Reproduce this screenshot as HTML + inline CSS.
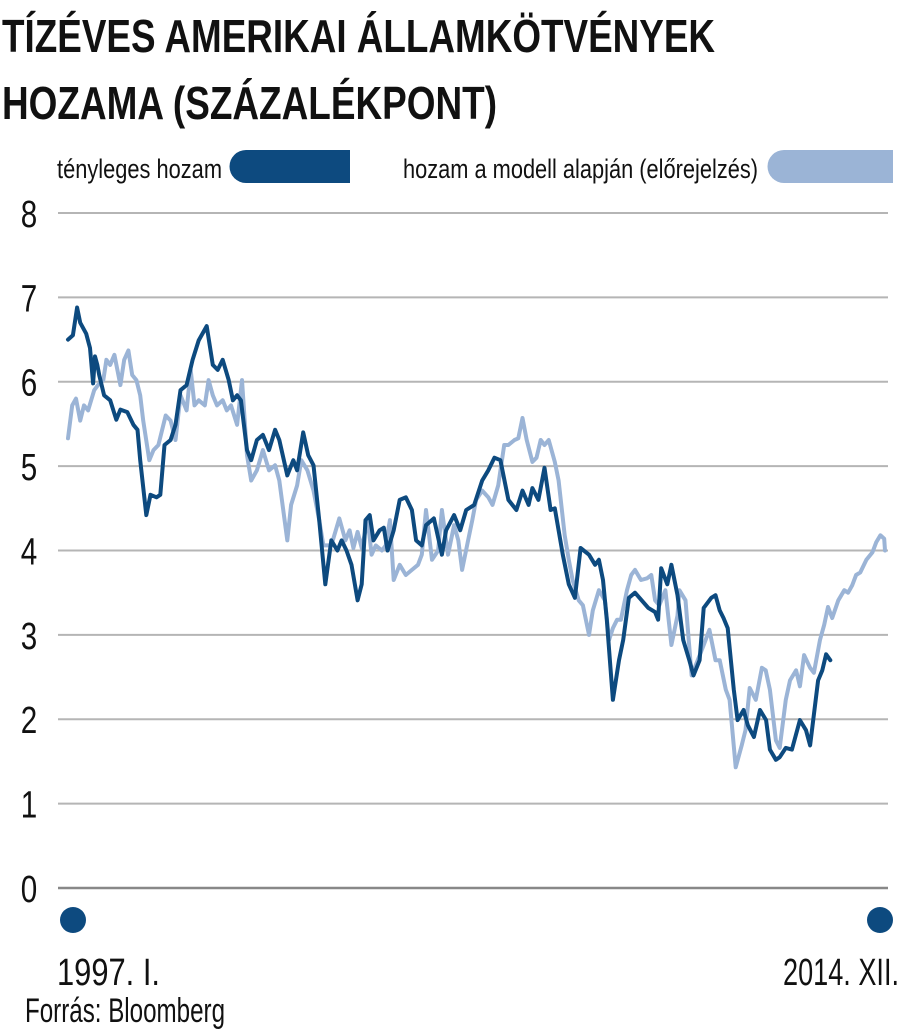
<!DOCTYPE html>
<html><head><meta charset="utf-8"><style>
html,body{margin:0;padding:0;background:#fff;}
svg{display:block;font-family:"Liberation Sans",sans-serif;}
</style></head><body>
<svg id="chart" width="900" height="1030" viewBox="0 0 900 1030" xmlns="http://www.w3.org/2000/svg">
<text x="2" y="52" font-size="46" font-weight="bold" fill="#111" textLength="713" lengthAdjust="spacingAndGlyphs">TÍZÉVES AMERIKAI ÁLLAMKÖTVÉNYEK</text>
<text x="2" y="119" font-size="46" font-weight="bold" fill="#111" textLength="495" lengthAdjust="spacingAndGlyphs">HOZAMA (SZÁZALÉKPONT)</text>
<g>
<text x="57" y="178" font-size="27" fill="#111" textLength="165" lengthAdjust="spacingAndGlyphs">tényleges hozam</text>
<path d="M246,150 H350 V183 H246 A16.5,16.5 0 0 1 246,150 Z" fill="#0d4a7f"/>
<text x="403" y="178" font-size="27" fill="#111" textLength="355" lengthAdjust="spacingAndGlyphs">hozam a modell alapján (előrejelzés)</text>
<path d="M784,150 H893 V183 H784 A16.5,16.5 0 0 1 784,150 Z" fill="#9bb4d6"/>
</g>
<g id="grid"></g>
<g id="series"></g>
<circle cx="73" cy="920" r="13" fill="#0d4a7f"/>
<circle cx="880" cy="920" r="13" fill="#0d4a7f"/>
<text x="57" y="985" font-size="38" fill="#111" textLength="103" lengthAdjust="spacingAndGlyphs">1997. I.</text>
<text x="783" y="985" font-size="38" fill="#111" textLength="116" lengthAdjust="spacingAndGlyphs">2014. XII.</text>
<text x="25" y="1022" font-size="34" fill="#111" textLength="200" lengthAdjust="spacingAndGlyphs">Forrás: Bloomberg</text>
</svg>
<script>
const yTicks = [0,1,2,3,4,5,6,7,8];
const actualMonths = [0,1.3,2.4,3.2,4.8,5.8,6.6,7.1,7.7,8.2,9.5,11.1,12.7,13.8,15.6,17.2,18.3,19.0,20.6,21.7,23.3,24.3,25.4,27.0,28.3,29.6,31.2,32.8,34.4,36.5,38.1,39.4,40.7,42.3,43.4,44.5,45.5,47.1,48.2,49.7,51.3,52.9,54.5,55.6,57.7,59.3,60.3,61.9,63.2,64.6,66.1,67.7,69.3,70.9,72.0,73.3,74.6,76.2,77.3,78.3,79.4,80.4,82.0,83.1,84.1,85.7,87.3,88.9,90.5,91.6,93.1,94.2,96.3,98.4,99.5,101.6,103.2,104.8,106.9,109.0,110.6,112.2,113.8,115.9,118.0,119.6,121.2,122.2,123.8,125.4,127.0,128.1,130.2,131.8,133.4,134.9,137.1,138.7,139.7,140.8,141.8,143.4,145.0,146.1,147.6,149.2,152.7,154.5,155.3,156.1,157.7,158.8,160.4,161.9,163.5,164.6,166.2,167.3,169.3,170.4,171.5,172.5,173.6,175.2,176.2,177.8,178.9,180.5,182.1,183.7,184.7,186.3,187.3,188.9,190.5,192.6,194.2,195.3,197.4,198.5,199.5,200.6];
const actualValues = [6.5,6.55,6.88,6.7,6.57,6.4,5.98,6.3,6.2,6.08,5.84,5.78,5.55,5.67,5.64,5.49,5.43,5.07,4.42,4.66,4.63,4.66,5.25,5.31,5.49,5.9,5.96,6.26,6.49,6.66,6.2,6.14,6.26,6.02,5.78,5.84,5.78,5.19,5.07,5.31,5.37,5.19,5.43,5.31,4.89,5.07,4.95,5.4,5.13,5.01,4.36,3.6,4.12,4.0,4.12,4.0,3.83,3.41,3.6,4.36,4.42,4.12,4.24,4.27,4.0,4.24,4.6,4.63,4.48,4.12,4.06,4.3,4.38,3.95,4.24,4.42,4.24,4.48,4.54,4.83,4.95,5.1,5.07,4.6,4.48,4.71,4.54,4.74,4.6,4.98,4.48,4.5,3.95,3.6,3.44,4.03,3.95,3.83,3.89,3.65,3.18,2.23,2.7,2.94,3.44,3.5,3.32,3.27,3.18,3.79,3.6,3.83,3.47,2.94,2.7,2.52,2.7,3.32,3.44,3.47,3.29,3.2,3.08,2.35,1.99,2.11,1.93,1.79,2.11,1.99,1.64,1.52,1.55,1.66,1.64,1.99,1.87,1.69,2.46,2.58,2.77,2.7];
const modelMonths = [0,1.1,2.1,3.2,4.2,5.3,6.9,7.9,9.3,10.1,11.1,12.2,13.8,14.8,15.9,16.9,18.0,19.0,19.8,21.4,22.5,23.8,25.7,27.0,28.3,29.6,31.2,32.3,33.3,34.4,36.0,37.0,38.1,39.2,40.7,41.8,42.9,44.5,45.8,47.1,48.2,49.7,51.3,52.9,54.5,55.6,57.7,58.7,60.3,61.4,63.0,64.6,66.1,67.2,69.3,71.4,73.0,74.1,75.1,76.2,77.3,78.9,79.9,81.0,82.6,83.6,84.7,85.7,87.3,88.9,90.5,92.1,93.1,94.2,95.8,97.4,98.4,100.0,101.6,102.7,103.7,105.3,106.4,107.4,109.0,110.6,111.7,113.2,114.8,115.9,117.5,118.5,119.6,120.7,122.2,123.3,124.4,125.4,126.5,128.1,129.1,130.7,131.8,132.8,134.4,135.5,137.1,138.1,139.7,141.3,142.4,143.4,144.5,145.5,147.1,148.2,149.2,150.8,152.4,153.5,154.5,155.6,157.2,158.8,160.4,160.9,162.5,164.1,165.7,167.3,168.8,170.4,171.5,173.1,174.1,175.7,177.3,178.3,179.4,181.0,182.6,183.6,184.7,186.3,187.3,188.9,190.0,191.6,192.6,193.7,195.3,196.3,197.9,199.0,200.0,201.1,202.7,204.3,205.3,206.4,207.4,208.5,210.1,211.7,212.7,213.8,214.8,215];
const modelValues = [5.33,5.72,5.8,5.54,5.72,5.66,5.9,5.96,6.02,6.26,6.2,6.32,5.96,6.26,6.37,6.08,6.02,5.84,5.54,5.07,5.19,5.25,5.6,5.54,5.31,5.84,5.66,6.14,5.72,5.78,5.72,6.02,5.84,5.72,5.78,5.66,5.72,5.49,6.02,5.13,4.83,4.95,5.19,4.95,5.01,4.83,4.12,4.54,4.77,5.07,4.95,4.71,4.36,4.06,4.06,4.38,4.12,4.24,4.03,4.22,4.03,4.36,3.95,4.06,4.0,4.06,4.36,3.65,3.83,3.71,3.77,3.83,3.95,4.48,3.89,4.0,4.48,3.95,4.3,4.12,3.77,4.12,4.36,4.6,4.71,4.63,4.54,4.77,5.25,5.25,5.31,5.33,5.57,5.31,5.05,5.1,5.31,5.25,5.31,5.05,4.83,4.18,3.89,3.65,3.41,3.35,3.0,3.29,3.53,3.41,2.94,3.08,3.18,3.18,3.53,3.71,3.77,3.65,3.67,3.71,3.41,3.35,3.53,2.88,3.23,3.53,3.41,2.52,2.7,2.88,3.06,2.7,2.7,2.35,2.23,1.43,1.69,1.87,2.37,2.23,2.61,2.58,2.35,1.75,1.66,2.23,2.46,2.58,2.39,2.76,2.61,2.55,2.94,3.12,3.33,3.2,3.41,3.53,3.5,3.59,3.71,3.74,3.89,3.98,4.1,4.18,4.14,4.0];

const NS = 'http://www.w3.org/2000/svg';
const xScale = m => 68 + m * (885 - 68) / 215;
const yScale = v => 888 - v * (888 - 213) / 8;

const grid = document.getElementById('grid');
yTicks.forEach(t => {
  const ln = document.createElementNS(NS, 'line');
  
  
  ln.setAttribute('x1', 58); ln.setAttribute('x2', 888);
  ln.setAttribute('y1', yScale(t)); ln.setAttribute('y2', yScale(t));
  ln.setAttribute('stroke', t === 0 ? '#888' : '#b5b5b5');
  ln.setAttribute('stroke-width', t === 0 ? 2.5 : 2);
  grid.appendChild(ln);
  const tx = document.createElementNS(NS, 'text');
  
  
  tx.setAttribute('x', 29); tx.setAttribute('y', yScale(t) + 14);
  tx.setAttribute('text-anchor', 'middle');
  tx.setAttribute('font-size', '38');
  tx.setAttribute('fill', '#111');
  tx.setAttribute('transform', 'translate(29,0) scale(0.78,1) translate(-29,0)');
  tx.textContent = t;
  grid.appendChild(tx);
});

function drawLine(ms, vs, color, name) {
  const p = document.createElementNS(NS, 'polyline');
  
  
  p.setAttribute('points', ms.map((m, i) => xScale(m).toFixed(1) + ',' + yScale(vs[i]).toFixed(1)).join(' '));
  p.setAttribute('fill', 'none');
  p.setAttribute('stroke', color);
  p.setAttribute('stroke-width', 4);
  p.setAttribute('stroke-linejoin', 'round');
  p.setAttribute('stroke-linecap', 'round');
  document.getElementById('series').appendChild(p);
}
drawLine(modelMonths, modelValues, '#9bb4d6', 'model-yield-line');
drawLine(actualMonths, actualValues, '#0d4a7f', 'actual-yield-line');
</script>
</body></html>
